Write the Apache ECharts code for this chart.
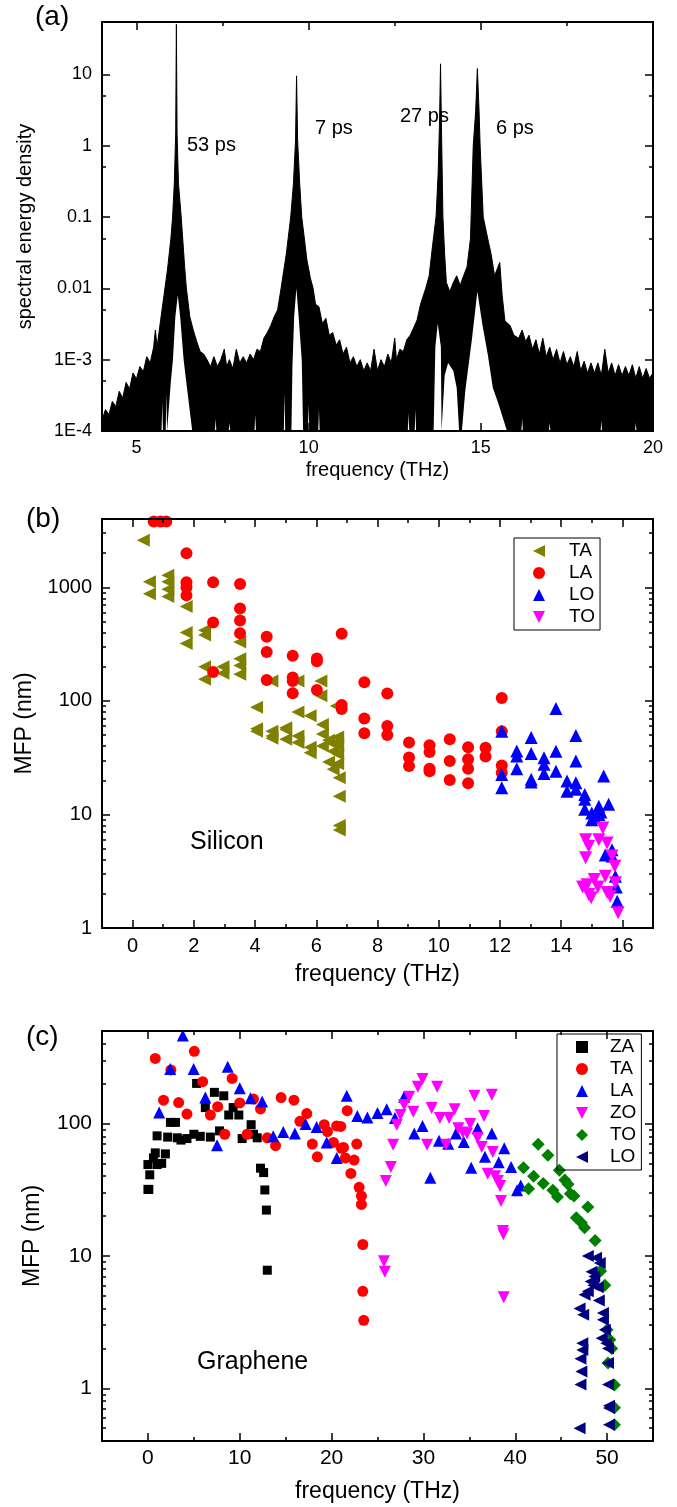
<!DOCTYPE html>
<html>
<head>
<meta charset="utf-8">
<script src="https://cdn.jsdelivr.net/npm/echarts@6/dist/echarts.min.js"></script>
<style>
  html, body { margin: 0; padding: 0; background: #fff; }
  #chart { width: 677px; height: 1507px; }
</style>
</head>
<body>
<div id="chart"></div>
<script>
// (a) spectral energy density, [frequency THz, value]: upper edge of the noisy trace
const sedTrace = [[4.0, 1.4e-4], [4.1, 2.0e-4], [4.2, 1.7e-4], [4.3, 2.6e-4], [4.4, 2.2e-4], [4.5, 3.6e-4],
  [4.6, 2.9e-4], [4.7, 4.8e-4], [4.8, 3.9e-4], [4.9, 6.5e-4], [5.0, 5.4e-4], [5.1, 8.0e-4], [5.2, 6.8e-4],
  [5.3, 1.1e-3], [5.4, 9.0e-4], [5.5, 1.5e-3], [5.55, 2.6e-3], [5.6, 1.5e-3], [5.7, 3.5e-3], [5.8, 8e-3],
  [5.9, 0.018], [6.0, 0.05], [6.05, 0.1], [6.1, 0.3], [6.14, 1.5], [6.16, 50], [6.18, 1.5], [6.22, 0.3], [6.3, 0.1],
  [6.4, 0.02], [6.45, 0.01], [6.55, 4e-3], [6.65, 2.6e-3], [6.75, 1.8e-3], [6.85, 1.3e-3], [6.95, 1.2e-3],
  [7.05, 1.0e-3], [7.15, 8e-4], [7.25, 1.1e-3], [7.35, 8e-4], [7.45, 1.0e-3], [7.55, 1.4e-3], [7.62, 8e-4],
  [7.7, 1.0e-3], [7.8, 7.5e-4], [7.9, 1.4e-3], [8.0, 9e-4], [8.1, 1.1e-3], [8.2, 9e-4], [8.3, 1.2e-3],
  [8.4, 1.0e-3], [8.5, 1.4e-3], [8.6, 1.3e-3], [8.7, 2.0e-3], [8.8, 2.4e-3], [8.9, 3.0e-3], [9.0, 4e-3],
  [9.1, 5e-3], [9.2, 0.01], [9.35, 0.03], [9.48, 0.1], [9.56, 0.3], [9.62, 1.2], [9.65, 9.5], [9.68, 1.2],
  [9.74, 0.3], [9.8, 0.1], [9.9, 0.04], [9.95, 0.025], [10.05, 0.014], [10.13, 0.01], [10.2, 6e-3], [10.3, 5.5e-3],
  [10.4, 3.2e-3], [10.5, 3.8e-3], [10.6, 2.2e-3], [10.7, 2.4e-3], [10.8, 1.6e-3], [10.9, 1.9e-3], [11.0, 1.2e-3],
  [11.1, 1.5e-3], [11.2, 9e-4], [11.3, 1.1e-3], [11.4, 8e-4], [11.5, 1.0e-3], [11.6, 7e-4], [11.7, 9e-4],
  [11.8, 7e-4], [11.9, 1.4e-3], [12.0, 7e-4], [12.1, 1.0e-3], [12.2, 8e-4], [12.3, 1.2e-3], [12.4, 9e-4],
  [12.5, 2.0e-3], [12.55, 1.0e-3], [12.65, 1.4e-3], [12.75, 1.3e-3], [12.85, 1.9e-3], [12.95, 2.2e-3],
  [13.05, 2.8e-3], [13.15, 3.6e-3], [13.25, 6e-3], [13.4, 0.01], [13.5, 0.015], [13.6, 0.04], [13.7, 0.1],
  [13.76, 0.4], [13.8, 2], [13.83, 14], [13.86, 1.5], [13.9, 0.1], [13.95, 0.03], [14.0, 0.012], [14.1, 9e-3],
  [14.2, 0.012], [14.3, 0.015], [14.4, 0.011], [14.5, 0.015], [14.6, 0.02], [14.7, 0.05], [14.78, 1.0], [14.85, 3],
  [14.9, 12], [14.95, 3], [14.98, 1.0], [15.07, 0.1], [15.2, 0.05], [15.3, 0.03], [15.4, 0.015], [15.55, 0.023],
  [15.62, 8e-3], [15.7, 3.5e-3], [15.85, 3e-3], [15.96, 2.2e-3], [16.1, 2.0e-3], [16.2, 2.6e-3], [16.3, 1.8e-3],
  [16.4, 2.2e-3], [16.5, 1.4e-3], [16.6, 1.9e-3], [16.7, 1.2e-3], [16.8, 2.0e-3], [16.9, 1.1e-3], [17.0, 1.5e-3],
  [17.1, 1.0e-3], [17.2, 1.4e-3], [17.3, 9e-4], [17.4, 1.3e-3], [17.5, 8.5e-4], [17.6, 1.1e-3], [17.7, 8e-4],
  [17.8, 1.3e-3], [17.9, 7e-4], [18.0, 9.5e-4], [18.1, 6.5e-4], [18.2, 9e-4], [18.3, 6.5e-4], [18.4, 9e-4],
  [18.5, 6e-4], [18.6, 1.4e-3], [18.7, 6.5e-4], [18.8, 9e-4], [18.9, 6e-4], [19.0, 8.5e-4], [19.1, 6e-4],
  [19.2, 8e-4], [19.3, 6e-4], [19.4, 8.5e-4], [19.5, 5.5e-4], [19.6, 8e-4], [19.7, 5.5e-4], [19.8, 7.5e-4],
  [19.9, 5.5e-4], [20.0, 6.5e-4]];
// white gaps left open under the trace (wedges beneath the peaks, thin slivers elsewhere)
const sedGaps = [[4.0, 1e-4], [5.73, 1e-4], [5.75, 2.5e-4], [5.77, 1e-4], [5.85, 1e-4], [5.87, 3.4e-4], [5.89, 1e-4],
  [5.92, 1e-4], [6.0, 5e-4], [6.06, 1e-3], [6.13, 4e-3], [6.2, 8e-3], [6.27, 4e-3], [6.37, 1e-3], [6.5, 3e-4],
  [6.62, 1e-4], [7.28, 1e-4], [7.3, 1.5e-4], [7.32, 1e-4], [7.68, 1e-4], [7.7, 1.3e-4], [7.72, 1e-4],
  [8.43, 1e-4], [8.45, 1.7e-4], [8.47, 1e-4], [9.28, 1e-4], [9.3, 3.4e-4], [9.32, 1e-4], [9.5, 1e-4],
  [9.53, 8e-4], [9.58, 4e-3], [9.645, 0.01], [9.71, 4e-3], [9.8, 1e-3], [9.84, 1e-4], [9.98, 1e-4], [10.0, 2.4e-4],
  [10.02, 1e-4], [10.28, 1e-4], [10.3, 2e-4], [10.32, 1e-4], [12.88, 1e-4], [12.9, 1.8e-4], [12.92, 1e-4],
  [13.08, 1e-4], [13.1, 2e-4], [13.12, 1e-4], [13.63, 1e-4], [13.68, 1.5e-3], [13.75, 3.2e-3], [13.84, 1.5e-3],
  [13.86, 1e-4], [13.9, 1e-4], [13.95, 6e-4], [14.05, 9e-4], [14.2, 7e-4], [14.3, 4e-4], [14.37, 1e-4],
  [14.45, 1e-4], [14.55, 3.7e-4], [14.74, 1.9e-3], [14.9, 9e-3], [15.05, 3e-3], [15.2, 1.2e-3], [15.35, 4e-4],
  [15.5, 2.5e-4], [15.76, 1e-4], [16.18, 1e-4], [16.2, 1.5e-4], [16.22, 1e-4], [16.98, 1e-4], [17.0, 1.3e-4],
  [17.02, 1e-4], [18.48, 1e-4], [18.5, 1.4e-4], [18.52, 1e-4], [19.48, 1e-4], [19.5, 1.3e-4], [19.52, 1e-4],
  [20.0, 1e-4]];
const lifetimes = ['53 ps', '7 ps', '27 ps', '6 ps'];

// (b) silicon, [frequency THz, MFP nm]
const siTA = [[0.35, 2600], [0.55, 1120], [0.55, 880], [1.15, 1280], [1.15, 1120], [1.15, 960], [1.15, 830],
  [1.75, 680], [1.75, 400], [1.75, 320], [2.35, 420], [2.35, 380], [2.35, 200], [2.35, 155], [2.95, 200], [2.95, 175],
  [3.5, 330], [3.5, 235], [3.5, 205], [3.5, 172], [4.05, 88], [4.05, 57], [4.05, 54], [4.55, 150], [4.55, 54],
  [4.55, 49], [4.55, 47], [5.0, 58], [5.0, 56], [5.0, 46], [5.4, 150], [5.4, 80], [5.4, 49], [5.4, 43], [5.8, 74],
  [5.8, 39], [5.8, 35], [6.15, 150], [6.15, 111], [6.2, 62], [6.2, 51], [6.2, 40], [6.4, 45], [6.4, 29], [6.55, 42],
  [6.55, 36], [6.55, 25], [6.65, 90], [6.7, 48], [6.7, 41], [6.7, 34], [6.7, 28], [6.75, 21], [6.75, 14.5],
  [6.75, 8], [6.75, 7.3]];
const siLA = [[0.69, 3800], [0.91, 3800], [1.1, 3800], [1.76, 2000], [1.76, 1110], [1.76, 1000], [1.76, 850],
  [2.63, 1110], [2.63, 490], [2.63, 180], [3.51, 1070], [3.51, 650], [3.51, 510], [3.51, 395], [4.38, 367],
  [4.38, 270], [4.38, 153], [5.23, 250], [5.23, 161], [5.23, 150], [5.23, 117], [6.02, 236], [6.02, 224], [6.02, 125],
  [6.83, 390], [6.83, 92], [6.83, 85], [7.57, 146], [7.57, 70], [7.57, 52], [8.32, 116], [8.32, 60], [8.32, 50],
  [9.03, 43], [9.03, 31.7], [9.03, 26.7], [9.7, 40.6], [9.7, 35.5], [9.7, 25.3], [9.7, 24], [10.36, 46], [10.36, 29.6],
  [10.36, 20.1], [10.96, 39], [10.96, 30.6], [10.96, 25.3], [10.96, 18.8], [11.53, 38.6], [11.53, 32.4],
  [12.06, 106], [12.06, 54], [12.06, 27], [12.06, 23.3]];
const siLO = [[12.06, 54], [12.06, 22.5], [12.06, 17.2], [12.55, 36.2], [12.55, 32.8], [12.55, 25.3], [13.02, 47.6],
  [13.02, 34.4], [13.02, 20.4], [13.02, 19.3], [13.44, 31.6], [13.44, 27.7], [13.44, 23], [13.83, 85.7], [13.83, 36],
  [13.83, 24], [14.19, 19.7], [14.19, 16], [14.48, 49.7], [14.48, 29.5], [14.48, 19], [14.48, 16.7], [14.77, 15],
  [14.77, 13.6], [14.77, 11.1], [15.0, 10.3], [15.0, 9], [15.1, 9.5], [15.23, 11.8], [15.23, 10], [15.3, 10.5],
  [15.39, 21.8], [15.55, 12.3], [15.44, 4.4], [15.66, 4.9], [15.66, 4.3], [15.77, 2.85], [15.8, 2.3], [15.83, 1.72]];
const siTO = [[15.36, 7.6], [14.8, 6], [14.9, 5.25], [14.8, 4.15], [15.23, 6], [15.5, 5.6], [15.66, 4.3],
  [15.75, 3.5], [14.7, 2.3], [14.85, 2.4], [14.9, 1.97], [14.98, 1.85], [15.08, 2.67], [15.2, 2.3], [15.44, 2.85],
  [15.5, 2.05], [15.6, 1.9], [15.77, 2.5], [15.86, 1.36]];

// (c) graphene, [frequency THz, MFP nm]
const grZA = [[0, 31.8], [0.1, 31.8], [0, 49], [0.2, 41], [0.6, 55], [0.8, 60], [1.0, 49], [1.5, 50], [1.9, 59],
  [1.0, 80.7], [2.15, 79], [2.45, 102], [3.0, 102], [3.2, 78], [3.6, 75], [4.25, 77], [5.0, 83], [5.7, 80], [6.8, 79],
  [7.8, 88], [5.3, 201], [6.25, 132], [7.24, 172], [8.26, 162], [8.8, 116], [9.9, 116], [9.28, 132], [10.26, 77],
  [11.24, 98], [11.5, 83], [11.9, 78], [12.26, 46], [12.6, 42.6], [12.73, 31.5], [12.9, 22.2], [13.0, 7.8]];
const grTA = [[0.8, 310], [1.7, 150], [2.5, 254], [3.35, 144], [4.25, 118], [5.05, 351], [5.96, 207], [6.8, 116],
  [7.6, 134], [8.37, 83], [9.17, 219], [10.0, 143], [10.8, 83], [11.5, 153], [12.26, 129], [13.0, 78], [13.9, 68],
  [14.5, 157], [15.9, 150], [16.55, 104], [17.3, 119], [17.9, 70], [18.45, 56], [19.2, 98], [19.55, 87], [20.2, 72],
  [20.55, 96], [21.0, 95], [21.07, 65], [21.3, 66], [21.5, 55], [21.7, 125], [22.1, 42], [22.45, 53], [22.74, 70],
  [23.0, 33], [23.25, 28.3], [23.25, 24.5], [23.4, 12.2], [23.4, 5.4], [23.5, 3.26]];
const grLA = [[1.23, 121], [2.43, 258], [3.8, 462], [4.98, 258], [6.25, 157], [7.53, 68.6], [8.69, 269], [10.0, 185],
  [11.17, 155], [12.44, 147], [13.64, 80], [14.74, 86.5], [16.0, 84], [17.17, 99], [18.37, 94], [19.47, 72],
  [20.56, 55], [21.65, 162], [22.8, 114], [23.9, 111], [25.0, 120], [26.0, 128], [26.9, 110], [27.9, 159], [29.0, 84],
  [29.9, 96], [30.75, 39], [31.7, 74], [32.7, 70.5], [33.55, 84], [34.4, 72.6], [35.2, 46.4], [35.9, 92], [36.7, 56],
  [37.45, 84], [38.2, 51], [38.8, 65], [39.55, 47], [40.2, 31.3], [40.6, 34]];
const grZO = [[25.7, 9.1], [25.8, 7.6], [25.9, 36.8], [26.45, 47], [26.7, 69], [27.1, 98], [27.5, 116], [27.9, 138],
  [28.45, 159], [28.9, 123], [29.4, 190], [29.9, 217], [30.4, 69], [30.9, 131], [31.5, 190], [31.8, 110], [32.45, 69],
  [32.8, 110], [33.4, 128], [33.8, 92], [34.3, 85.5], [34.75, 84], [35.1, 99], [35.55, 162], [35.9, 77.6],
  [36.35, 66.5], [36.6, 114], [37.0, 41.8], [37.45, 165], [37.55, 61], [37.8, 40], [38.1, 36.8], [38.35, 33.7],
  [38.45, 26], [38.65, 15.4], [38.7, 14.6], [38.75, 4.87]];
const grTO = [[40.9, 46.4], [41.45, 32.2], [42.0, 40], [42.5, 69.8], [43.05, 35.3], [43.55, 57.6], [44.1, 31.3],
  [44.6, 27.9], [44.8, 44.4], [45.4, 37.4], [45.75, 34.8], [46.0, 29.5], [46.4, 28.3], [46.65, 19.4], [47.2, 17.8],
  [47.55, 16.3], [47.9, 23.4], [48.7, 13.1], [49.3, 7.7], [49.75, 6.0], [50.0, 2.77], [50.3, 2.33], [50.5, 2.0],
  [50.1, 1.55], [50.8, 1.06], [50.8, 0.714], [50.8, 0.53]];
const grLO = [[47.9, 10], [48.8, 9.7], [49.2, 8.85], [48.3, 7.6], [48.6, 7.0], [48.2, 6.4], [48.5, 6.0], [49.0, 5.8],
  [47.55, 5.1], [47.9, 5.4], [49.1, 4.6], [47.0, 4.0], [47.4, 3.6], [49.55, 3.7], [49.55, 3.3], [49.75, 2.77],
  [49.4, 2.39], [49.9, 2.19], [50.1, 2.0], [47.3, 2.19], [47.3, 1.95], [47.1, 1.67], [47.2, 1.34], [47.1, 1.07],
  [50.1, 1.55], [50.1, 1.07], [50.2, 0.74], [50.2, 0.71], [50.2, 0.53], [47.0, 0.5]];

// tick positions
const aTicksX = [5, 10, 15, 20], aMinorX = [7.5, 12.5, 17.5];
const bTicksX = [0, 2, 4, 6, 8, 10, 12, 14, 16], bMinorX = [1, 3, 5, 7, 9, 11, 13, 15];
const cTicksX = [0, 10, 20, 30, 40, 50], cMinorX = [5, 15, 25, 35, 45];
const aTicksY = [1e-4, 1e-3, 0.01, 0.1, 1, 10], aMinorY = [5e-4, 5e-3, 0.05, 0.5, 5];

const FONT = '"Liberation Sans", Arial, Helvetica, sans-serif';
const BLACK = '#000';
// legend glyphs that need a direction
const TRI_LEFT = 'path://M0,5L10,0L10,10Z';
const TRI_DOWN = 'path://M0,0L10,0L5,10Z';

function logMinors(min, max) {
  const out = [];
  for (let e = -5; e <= 4; e++) {
    for (let k = 2; k <= 9; k++) {
      const v = +(k * Math.pow(10, e)).toPrecision(6);
      if (v > min && v < max) out.push(v);
    }
  }
  return out;
}
function logMajors(min, max) {
  const out = [];
  for (let e = -5; e <= 4; e++) {
    const v = +Math.pow(10, e).toPrecision(6);
    if (v >= min && v <= max) out.push(v);
  }
  return out;
}
function logLabel(v) {
  const e = Math.round(Math.log10(v));
  if (e === -4) return '1E-4';
  if (e === -3) return '1E-3';
  return String(+Math.pow(10, e).toPrecision(6));
}

function tick(vals, len) {
  return { show: true, inside: true, length: len, customValues: vals, lineStyle: { color: BLACK, width: 1.5 } };
}

function xAxes(g, min, max, major, minor, o) {
  const base = {
    gridIndex: g, type: 'value', min: min, max: max, z: 5,
    splitLine: { show: false },
    axisLine: { show: true, onZero: false, lineStyle: { color: BLACK, width: 2 } }
  };
  return [
    Object.assign({}, base, {
      position: 'bottom', axisTick: tick(major, 8),
      axisLabel: { customValues: major, color: BLACK, fontFamily: FONT, fontSize: o.labelSize, margin: o.labelMargin },
      name: o.name, nameLocation: 'middle', nameGap: o.nameGap,
      nameTextStyle: { color: BLACK, fontFamily: FONT, fontSize: o.nameSize }
    }),
    Object.assign({}, base, { position: 'bottom', axisTick: tick(minor, 4), axisLabel: { show: false } }),
    Object.assign({}, base, { position: 'top', axisTick: tick(major, 8), axisLabel: { show: false } }),
    Object.assign({}, base, { position: 'top', axisTick: tick(minor, 4), axisLabel: { show: false } })
  ];
}

function yAxes(g, min, max, major, minor, o) {
  const base = {
    gridIndex: g, type: 'log', logBase: 10, min: min, max: max, z: 5,
    splitLine: { show: false },
    axisLine: { show: true, onZero: false, lineStyle: { color: BLACK, width: 2 } }
  };
  return [
    Object.assign({}, base, {
      position: 'left', axisTick: tick(major, 8),
      axisLabel: { customValues: major, formatter: logLabel, color: BLACK, fontFamily: FONT,
        fontSize: o.labelSize, margin: o.labelMargin },
      name: o.name, nameLocation: 'middle', nameGap: o.nameGap,
      nameTextStyle: { color: BLACK, fontFamily: FONT, fontSize: o.nameSize }
    }),
    Object.assign({}, base, { position: 'left', axisTick: tick(minor, 4), axisLabel: { show: false } }),
    Object.assign({}, base, { position: 'right', axisTick: tick(major, 8), axisLabel: { show: false } }),
    Object.assign({}, base, { position: 'right', axisTick: tick(minor, 4), axisLabel: { show: false } })
  ];
}

function scatter(name, g, data, color, symbol, size, rotate) {
  return {
    name: name, type: 'scatter', xAxisIndex: 4 * g, yAxisIndex: 4 * g, data: data,
    symbol: symbol, symbolSize: size, symbolRotate: rotate || 0,
    itemStyle: { color: color, opacity: 1 }, silent: true
  };
}

function legend(items, left, top, textPad) {
  return {
    data: items, orient: 'vertical', left: left, top: top,
    itemWidth: 12, itemHeight: 12, itemGap: 0, padding: [2, 5, 2, 19],
    symbolRotate: 0, symbolKeepAspect: true,
    borderColor: BLACK, borderWidth: 1, borderRadius: 0, selectedMode: false,
    formatter: function (n) { return n.split(' ')[1]; },
    textStyle: { color: BLACK, fontFamily: FONT, fontSize: 19, lineHeight: 22, padding: [0, 0, 0, textPad] }
  };
}

function label(text, left, top, size) {
  return { type: 'text', left: left, top: top, z: 10,
    style: { text: text, fill: BLACK, fontFamily: FONT, fontSize: size } };
}

const chart = echarts.init(document.getElementById('chart'), null, { renderer: 'canvas' });

const option = {
  backgroundColor: '#fff',
  animation: false,
  grid: [
    { left: 102, top: 22, width: 551, height: 409 },
    { left: 102, top: 519, width: 551, height: 409 },
    { left: 102, top: 1031, width: 551, height: 410 }
  ],
  xAxis: [].concat(
    xAxes(0, 4, 20, aTicksX, aMinorX, { name: 'frequency (THz)', labelSize: 18, labelMargin: 8, nameSize: 20, nameGap: 29 }),
    xAxes(1, -1, 17, bTicksX, bMinorX, { name: 'frequency (THz)', labelSize: 20, labelMargin: 8, nameSize: 23, nameGap: 35 }),
    xAxes(2, -5, 55, cTicksX, cMinorX, { name: 'frequency (THz)', labelSize: 21, labelMargin: 7, nameSize: 23, nameGap: 39 })
  ),
  yAxis: [].concat(
    yAxes(0, 1e-4, 54, aTicksY, aMinorY, { name: 'spectral energy density', labelSize: 18, labelMargin: 10, nameSize: 20, nameGap: 67 }),
    yAxes(1, 1, 4000, logMajors(1, 4000), logMinors(1, 4000), { name: 'MFP (nm)', labelSize: 20, labelMargin: 10, nameSize: 23, nameGap: 58 }),
    yAxes(2, 0.4, 500, logMajors(0.4, 500), logMinors(0.4, 500), { name: 'MFP (nm)', labelSize: 21, labelMargin: 10, nameSize: 23, nameGap: 58 })
  ),
  legend: [
    legend([
      { name: 'Si TA', icon: TRI_LEFT }, { name: 'Si LA', icon: 'circle' },
      { name: 'Si LO', icon: 'triangle' }, { name: 'Si TO', icon: TRI_DOWN }
    ], 514, 538, 19),
    legend([
      { name: 'Gr ZA', icon: 'rect' }, { name: 'Gr TA', icon: 'circle' }, { name: 'Gr LA', icon: 'triangle' },
      { name: 'Gr ZO', icon: TRI_DOWN }, { name: 'Gr TO', icon: 'diamond' }, { name: 'Gr LO', icon: TRI_LEFT }
    ], 557, 1034, 17)
  ],
  series: [
    {
      name: 'SED', type: 'line', xAxisIndex: 0, yAxisIndex: 0, silent: true, data: sedTrace,
      symbol: 'none', lineStyle: { color: BLACK, width: 1 },
      areaStyle: { color: BLACK, opacity: 1, origin: 'start' }
    },
    {
      name: 'SED gap', type: 'line', xAxisIndex: 0, yAxisIndex: 0, silent: true, data: sedGaps,
      symbol: 'none', lineStyle: { width: 0, color: '#fff' },
      areaStyle: { color: '#fff', opacity: 1, origin: 'start' }
    },
    scatter('Si TA', 1, siTA, '#808000', 'triangle', 13, 90),
    scatter('Si LA', 1, siLA, '#ff0000', 'circle', 12),
    scatter('Si LO', 1, siLO, '#0000ff', 'triangle', 13),
    scatter('Si TO', 1, siTO, '#ff00ff', 'triangle', 13, 180),
    scatter('Gr ZA', 2, grZA, '#000000', 'rect', 9),
    scatter('Gr TA', 2, grTA, '#ff0000', 'circle', 11),
    scatter('Gr LA', 2, grLA, '#0000ff', 'triangle', 12),
    scatter('Gr ZO', 2, grZO, '#ff00ff', 'triangle', 12, 180),
    scatter('Gr TO', 2, grTO, '#008000', 'diamond', 13),
    scatter('Gr LO', 2, grLO, '#000080', 'triangle', 12, 90)
  ],
  graphic: { elements: [
    label('(a)', 35, 3, 28),
    label('(b)', 26, 505, 28),
    label('(c)', 26, 1023, 28),
    label(lifetimes[0], 187, 135, 20),
    label(lifetimes[1], 315, 118, 20),
    label(lifetimes[2], 400, 106, 20),
    label(lifetimes[3], 496, 118, 20),
    label('Silicon', 190, 830, 25),
    label('Graphene', 197, 1350, 25)
  ] }
};

chart.setOption(option);
</script>
</body>
</html>
